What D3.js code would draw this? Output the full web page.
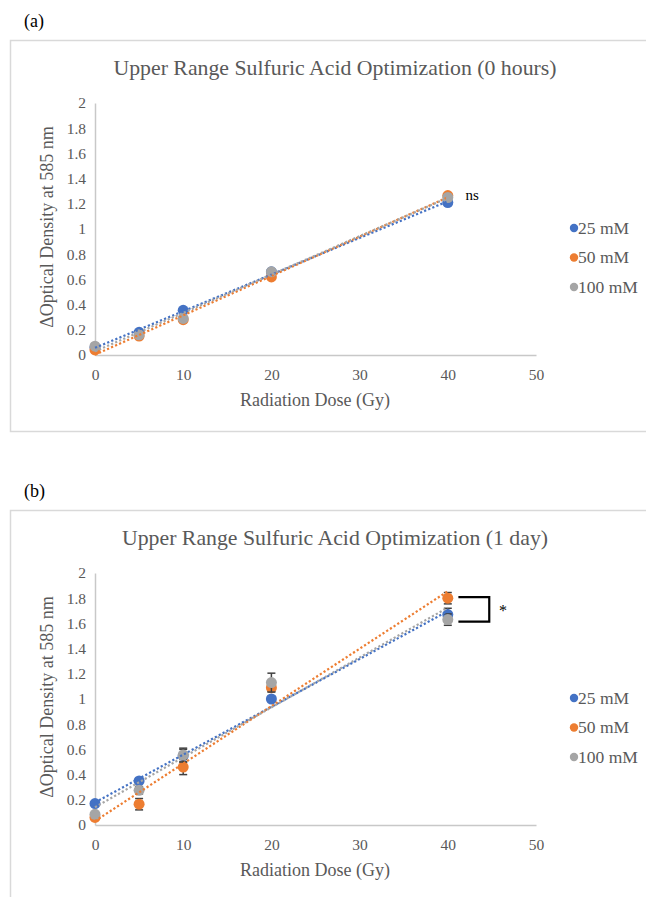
<!DOCTYPE html>
<html>
<head>
<meta charset="utf-8">
<script src="https://cdn.jsdelivr.net/npm/d3@7"></script>
<style>
  html, body { margin: 0; padding: 0; background: #ffffff; }
  svg { display: block; }
  text { font-family: "Liberation Serif", "Times New Roman", serif; }
</style>
</head>
<body>
<svg id="chart" width="646" height="897"></svg>
<script>
// Radiation doses (Gy) and sulfuric acid concentrations
const doses = [0, 5, 10, 20, 40];
const seriesNames = ["25 mM", "50 mM", "100 mM"];
const seriesColors = ["#4472C4", "#ED7D31", "#A5A5A5"];
const xTicks = [0, 10, 20, 30, 40, 50];
const yTicks = [0, 0.2, 0.4, 0.6, 0.8, 1, 1.2, 1.4, 1.6, 1.8, 2];

// 0 hours: change in optical density at 585 nm
const hr0_25mM  = [0.06, 0.18, 0.355, 0.66, 1.21];
const hr0_50mM  = [0.04, 0.15, 0.28, 0.62, 1.265];
const hr0_100mM = [0.07, 0.16, 0.29, 0.66, 1.25];
const hr0_25mM_err  = [0.01, 0.02, 0.01, 0.01, 0.015];
const hr0_50mM_err  = [0.01, 0.01, 0.01, 0.01, 0.01];
const hr0_100mM_err = [0.01, 0.01, 0.01, 0.01, 0.01];

// 1 day: change in optical density at 585 nm
const day1_25mM  = [0.17, 0.35, 0.55, 1.00, 1.67];
const day1_50mM  = [0.06, 0.165, 0.46, 1.09, 1.80];
const day1_100mM = [0.085, 0.275, 0.555, 1.13, 1.63];
const day1_25mM_err  = [0.01, 0.02, 0.05, 0.02, 0.05];
const day1_50mM_err  = [0.01, 0.045, 0.06, 0.03, 0.045];
const day1_100mM_err = [0.015, 0.03, 0.055, 0.075, 0.045];

const svg = d3.select("#chart");

function linearFit(xs, ys) {
  const mx = d3.mean(xs), my = d3.mean(ys);
  let sxy = 0, sxx = 0;
  xs.forEach((x, i) => { sxy += (x - mx) * (ys[i] - my); sxx += (x - mx) * (x - mx); });
  const slope = sxy / sxx;
  return { slope, intercept: my - slope * mx };
}

function drawPanel(oy, letter, title, values, errors, annotate) {
  const g = svg.append("g").attr("transform", `translate(0,${oy})`);

  g.append("text").attr("x", 24).attr("y", 27)
    .attr("font-size", 18).attr("fill", "#000").text(letter);

  g.append("rect").attr("x", 10.5).attr("y", 40.5)
    .attr("width", 650).attr("height", 391)
    .attr("fill", "none").attr("stroke", "#d9d9d9").attr("stroke-width", 1.5);

  g.append("text").attr("x", 335).attr("y", 75)
    .attr("text-anchor", "middle").attr("font-size", 21.8).attr("fill", "#595959")
    .text(title);

  const x = d3.scaleLinear().domain([0, 50]).range([95, 536]);
  const y = d3.scaleLinear().domain([0, 2]).range([355, 103]);

  // axes
  const xAxis = g.append("g").attr("transform", `translate(0,${y(0)})`)
    .call(d3.axisBottom(x).tickValues(xTicks).tickSize(0).tickPadding(14));
  const yAxis = g.append("g").attr("transform", `translate(${x(0)},0)`)
    .call(d3.axisLeft(y).tickValues(yTicks).tickSize(0).tickPadding(9)
      .tickFormat(d => d3.format("~g")(d)));
  [xAxis, yAxis].forEach(a => {
    a.select(".domain").attr("stroke", "#c8c8c8").attr("stroke-width", 1.5);
    a.selectAll("text").attr("font-size", 15.5).attr("fill", "#595959")
      .attr("font-family", "Liberation Serif, Times New Roman, serif");
  });

  g.append("text").attr("x", 315).attr("y", 406)
    .attr("text-anchor", "middle").attr("font-size", 18).attr("fill", "#595959")
    .text("Radiation Dose (Gy)");
  g.append("text")
    .attr("transform", `translate(53,227) rotate(-90)`)
    .attr("text-anchor", "middle").attr("font-size", 18).attr("fill", "#595959")
    .text("\u0394Optical Density at 585 nm");

  // markers with error bars
  values.forEach((vals, si) => {
    const s = g.append("g");
    vals.forEach((v, i) => {
      const e = errors[si][i];
      const cx = x(doses[i]);
      s.append("line").attr("x1", cx).attr("x2", cx)
        .attr("y1", y(v - e)).attr("y2", y(v + e))
        .attr("stroke", "#404040").attr("stroke-width", 1.5);
      [v - e, v + e].forEach(ev => {
        s.append("line").attr("x1", cx - 4).attr("x2", cx + 4)
          .attr("y1", y(ev)).attr("y2", y(ev))
          .attr("stroke", "#404040").attr("stroke-width", 1.5);
      });
    });
    s.selectAll("circle").data(vals).join("circle")
      .attr("cx", (d, i) => x(doses[i])).attr("cy", d => y(d))
      .attr("r", 5.5).attr("fill", seriesColors[si]);
  });

  // dotted linear trendlines
  values.forEach((vals, si) => {
    const f = linearFit(doses, vals);
    const ends = [d3.min(doses), d3.max(doses)];
    g.append("line")
      .attr("x1", x(ends[0])).attr("y1", y(f.intercept + f.slope * ends[0]))
      .attr("x2", x(ends[1])).attr("y2", y(f.intercept + f.slope * ends[1]))
      .attr("stroke", seriesColors[si]).attr("stroke-width", 2.2)
      .attr("stroke-dasharray", "2.2,2.2");
  });

  // legend
  seriesNames.forEach((name, si) => {
    const ly = 228 + si * 29.5;
    g.append("circle").attr("cx", 574).attr("cy", ly).attr("r", 4.2)
      .attr("fill", seriesColors[si]);
    g.append("text").attr("x", 578).attr("y", ly + 5.5)
      .attr("font-size", 17.5).attr("fill", "#595959").text(name);
  });

  annotate(g, x, y);
}

drawPanel(0, "(a)", "Upper Range Sulfuric Acid Optimization (0 hours)",
  [hr0_25mM, hr0_50mM, hr0_100mM],
  [hr0_25mM_err, hr0_50mM_err, hr0_100mM_err],
  (g, x, y) => {
    g.append("text").attr("x", x(42)).attr("y", y(1.23))
      .attr("font-size", 15).attr("fill", "#000").text("ns");
  });

drawPanel(470, "(b)", "Upper Range Sulfuric Acid Optimization (1 day)",
  [day1_25mM, day1_50mM, day1_100mM],
  [day1_25mM_err, day1_50mM_err, day1_100mM_err],
  (g, x, y) => {
    const x0 = x(41.2), x1 = x(44.7);
    const yTop = y(day1_50mM[4]) - 1, yBot = y(day1_100mM[4]) + 2;
    g.append("path")
      .attr("d", `M${x0},${yTop} H${x1} V${yBot} H${x0}`)
      .attr("fill", "none").attr("stroke", "#000").attr("stroke-width", 2.2);
    g.append("text").attr("x", x(45.8)).attr("y", (yTop + yBot) / 2 + 7)
      .attr("font-size", 16).attr("fill", "#000").text("*");
  });
</script>
</body>
</html>
